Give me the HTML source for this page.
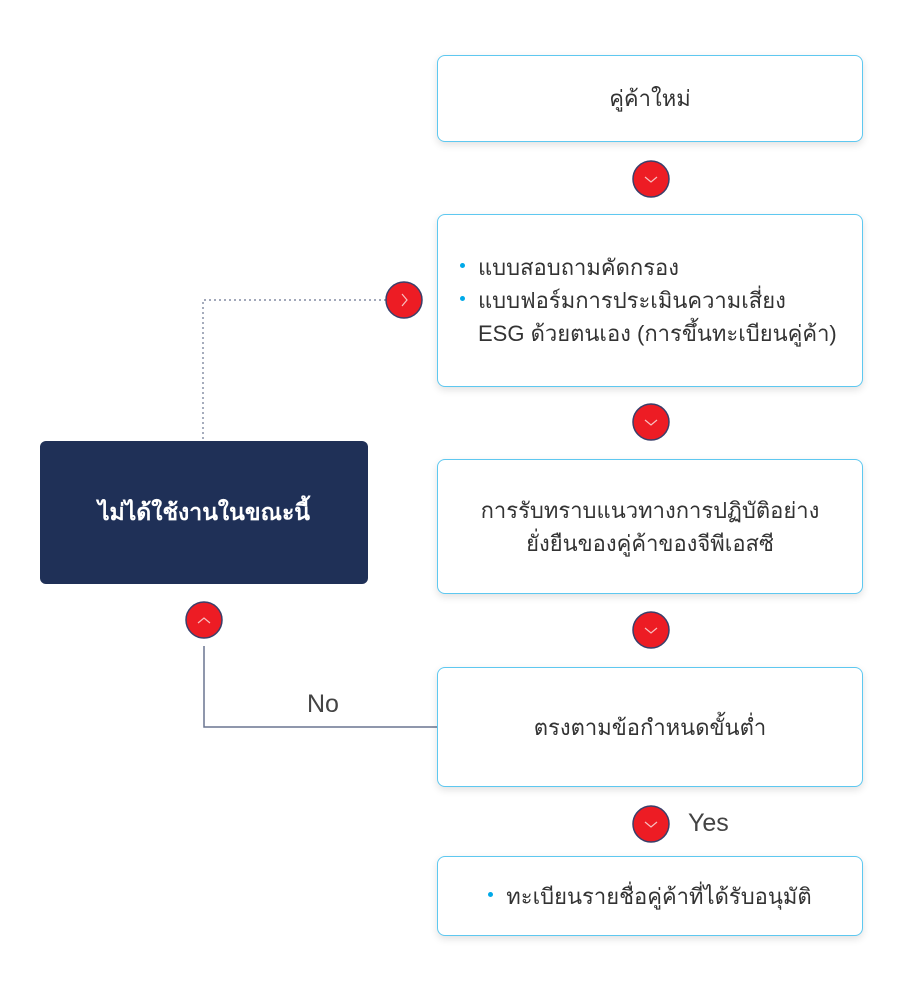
<!DOCTYPE html>
<html><head><meta charset="utf-8"><style>
body{margin:0;width:901px;height:989px;background:#fff;position:relative;font-family:"Liberation Sans","Noto Sans CJK SC",sans-serif;overflow:hidden}
.box{position:absolute;left:437px;width:424px;border:1.5px solid #5ec8f0;border-radius:8px;background:#fff;box-shadow:0 3px 8px rgba(0,0,0,0.12);display:flex;align-items:center;justify-content:center;text-align:center;color:#333;font-size:22px;line-height:33px}
.c{position:absolute;width:34px;height:34px;border-radius:50%;background:#ed1c24;box-shadow:1.5px 1.5px 0 #3a3f6a;display:flex;align-items:center;justify-content:center}
ul{margin:0;padding:0;list-style:none;text-align:left}
li{position:relative;padding-left:18px}
li:before{content:"";position:absolute;left:0;top:12px;width:5px;height:5px;border-radius:50%;background:#00a9e8}
</style></head><body>
<svg width="901" height="989" style="position:absolute;left:0;top:0">
<path d="M386 300H203V441" fill="none" stroke="#6a7590" stroke-width="1.2" stroke-dasharray="2 3"/>
<path d="M204 646V727H437" fill="none" stroke="#6a7590" stroke-width="1.5"/>
</svg>
<div class="box" style="top:55px;height:85px">คู่ค้าใหม่</div>
<div class="box" style="top:214px;height:171px;justify-content:flex-start;padding-left:22px;width:402px"><ul><li>แบบสอบถามคัดกรอง</li><li>แบบฟอร์มการประเมินความเสี่ยง<br>ESG ด้วยตนเอง (การขึ้นทะเบียนคู่ค้า)</li></ul></div>
<div class="box" style="top:459px;height:133px">การรับทราบแนวทางการปฏิบัติอย่าง<br>ยั่งยืนของคู่ค้าของจีพีเอสซี</div>
<div class="box" style="top:667px;height:118px">ตรงตามข้อกำหนดขั้นต่ำ</div>
<div class="box" style="top:856px;height:78px"><ul><li>ทะเบียนรายชื่อคู่ค้าที่ได้รับอนุมัติ</li></ul></div>
<div style="position:absolute;left:40px;top:441px;width:328px;height:143px;background:#1f3057;border-radius:6px;color:#fff;font-size:23px;font-weight:bold;display:flex;align-items:center;justify-content:center">ไม่ได้ใช้งานในขณะนี้</div>
<div style="position:absolute;left:307px;top:690px;font-size:25px;color:#444">No</div>
<div style="position:absolute;left:688px;top:809px;font-size:25px;color:#444">Yes</div>
<svg width="901" height="989" style="position:absolute;left:0;top:0">
<g fill="#ed1c24" stroke="#3a3f6a" stroke-width="1.5">
<circle cx="651" cy="179" r="18"/><circle cx="651" cy="422" r="18"/><circle cx="651" cy="630" r="18"/><circle cx="651" cy="824" r="18"/><circle cx="404" cy="300" r="18"/><circle cx="204" cy="620" r="18"/>
</g>
<g fill="none" stroke="#f7c0c0" stroke-width="1.2">
<path d="M645 177l6 5 6-5"/><path d="M645 420l6 5 6-5"/><path d="M645 628l6 5 6-5"/><path d="M645 822l6 5 6-5"/><path d="M402 294l5 6-5 6"/><path d="M198 623l6-5 6 5"/>
</g>
</svg>
</body></html>
